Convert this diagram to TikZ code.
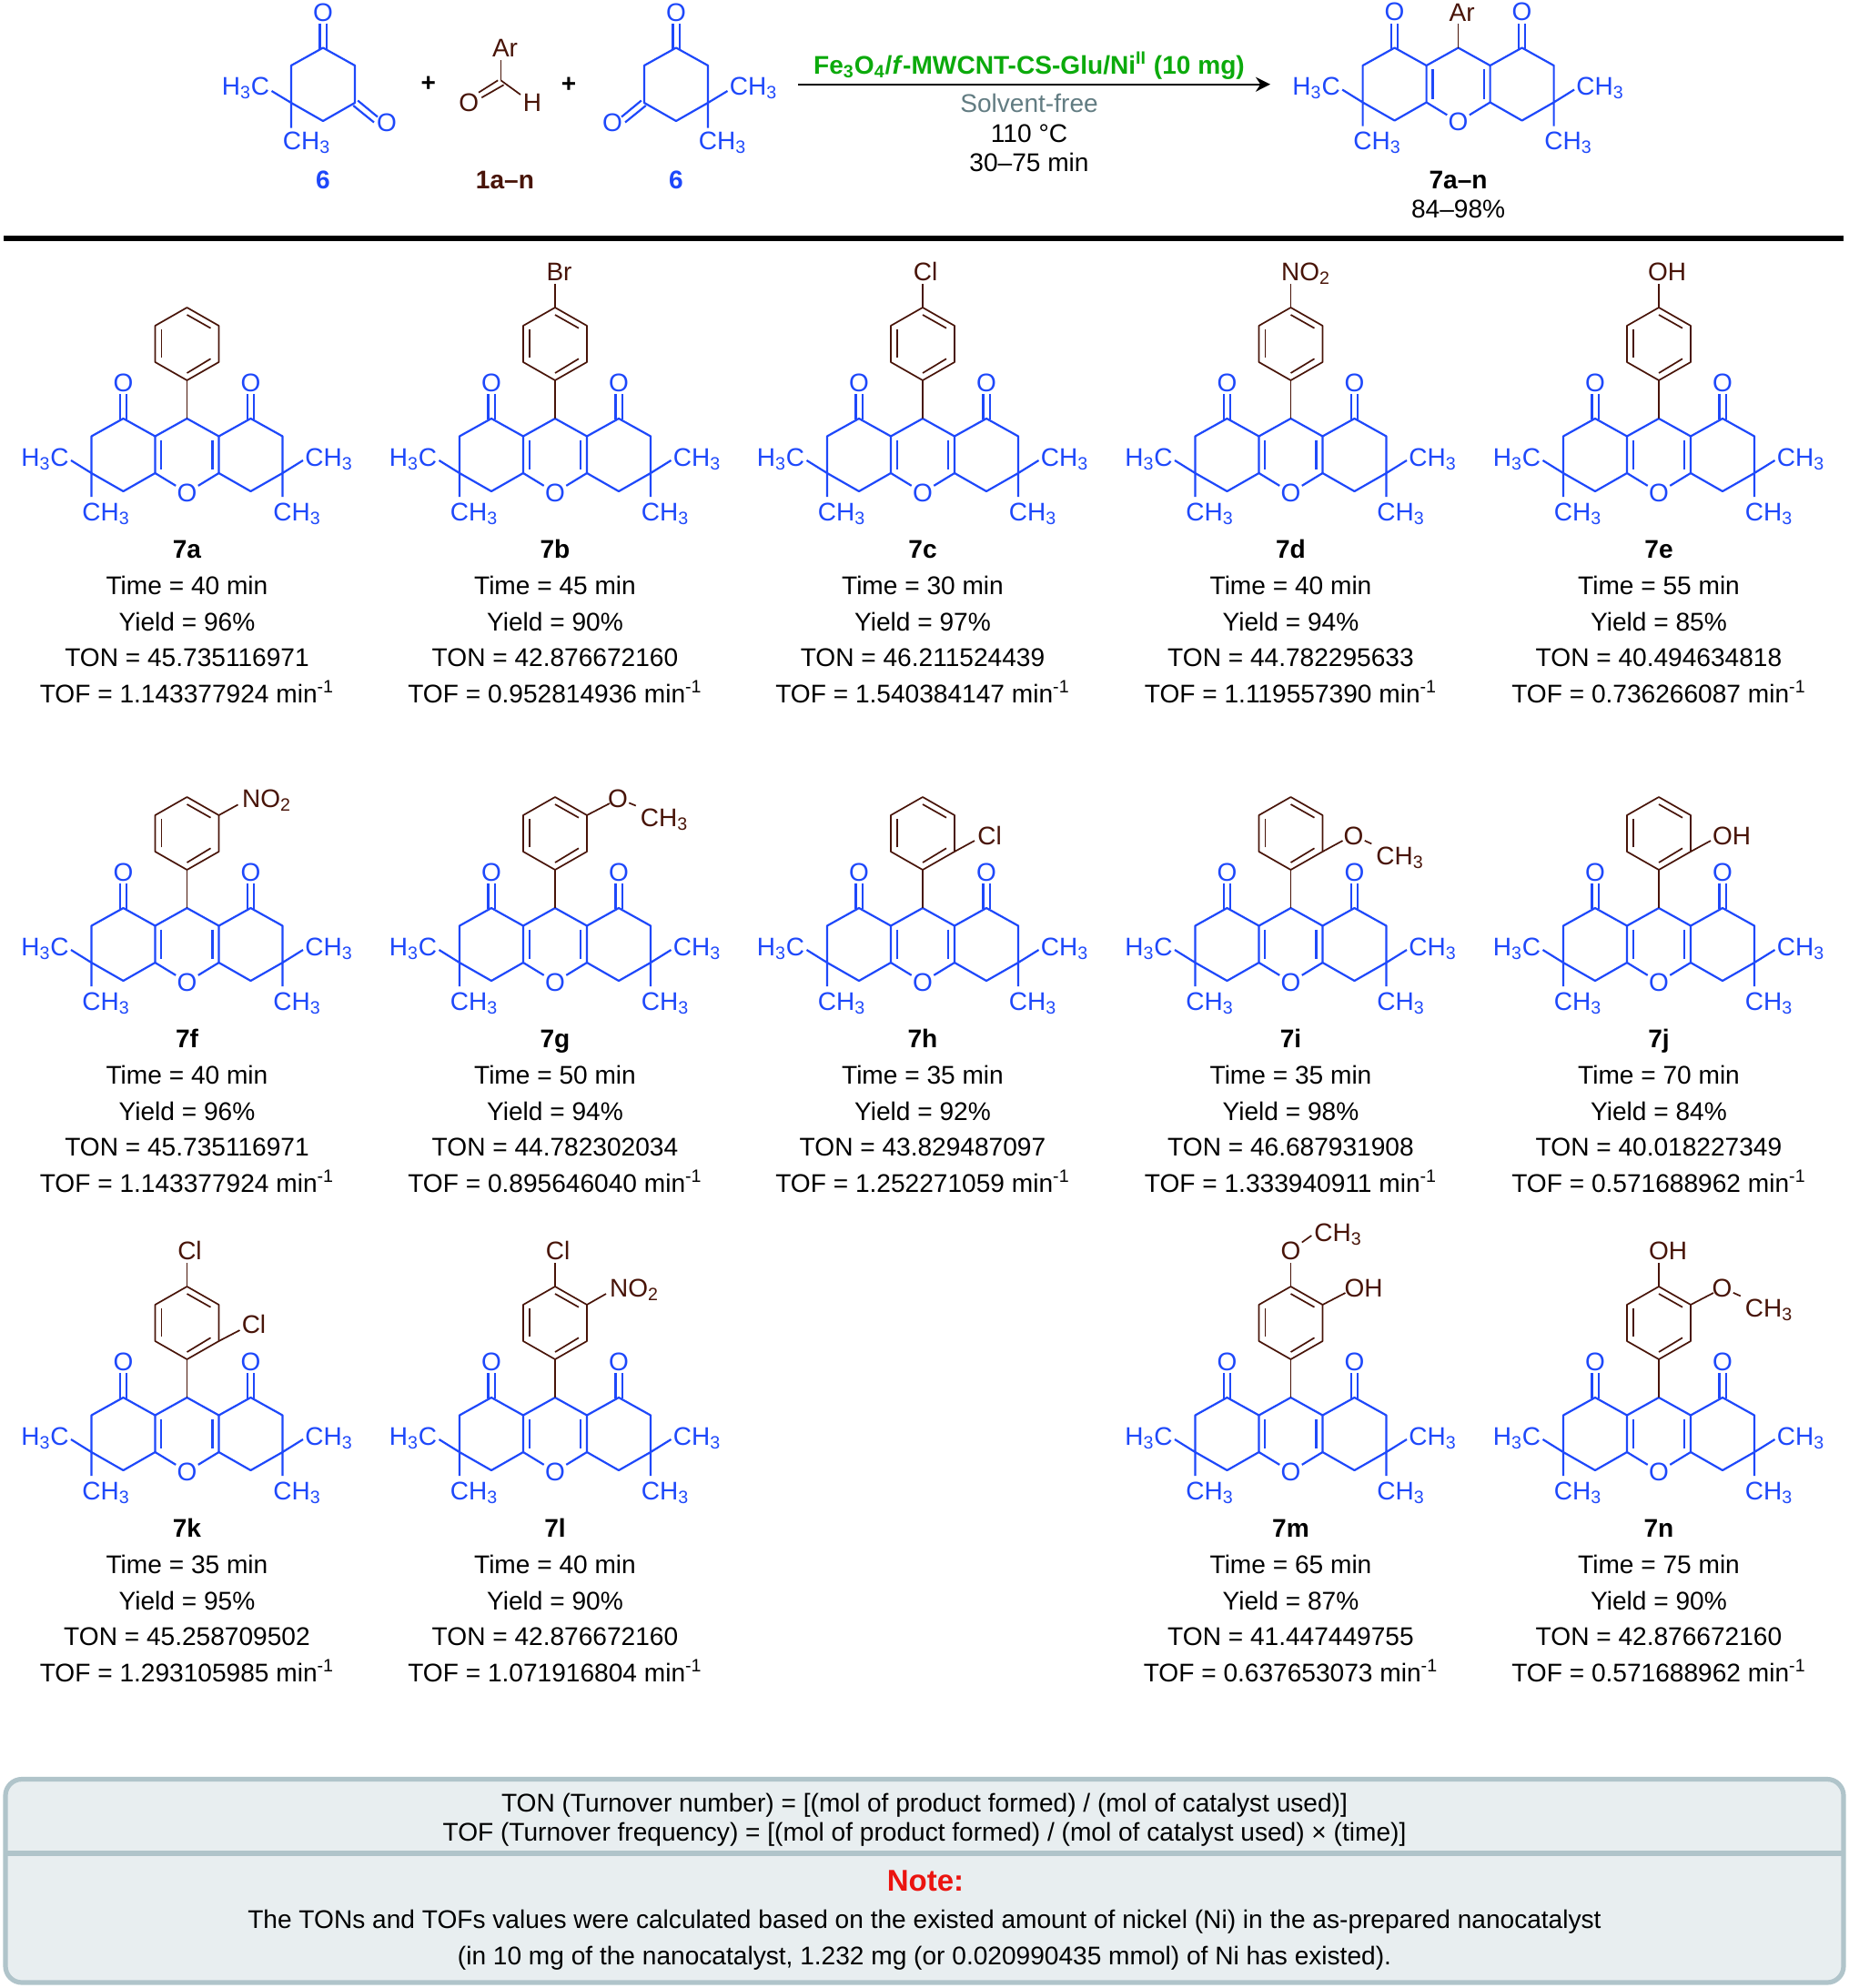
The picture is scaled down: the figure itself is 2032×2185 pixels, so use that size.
\documentclass[tikz,border=0pt]{standalone}
\usepackage{fontspec}
\setmainfont{Liberation Sans}
\usetikzlibrary{arrows.meta}
\definecolor{chemblue}{RGB}{30,72,250}
\definecolor{chembrown}{RGB}{72,20,8}
\definecolor{catgreen}{RGB}{12,170,12}
\definecolor{solvgray}{RGB}{98,124,130}
\definecolor{noteedge}{RGB}{176,196,202}
\definecolor{notefill}{RGB}{232,238,240}
\definecolor{notered}{RGB}{235,20,15}
\newcommand{\sub}[1]{\textsubscript{#1}}
\newcommand{\CHt}{CH\sub{3}}
\tikzset{
  bondblue/.style={draw=chemblue,line width=1.1pt},
  bondbrown/.style={draw=chembrown,line width=0.85pt},
  atomblue/.style={text=chemblue,font=\fontsize{14}{16}\selectfont,inner sep=0.5pt,anchor=base},
  atombrown/.style={text=chembrown,font=\fontsize{14}{16}\selectfont,inner sep=0.5pt,anchor=base},
  datatext/.style={font=\fontsize{14.05}{16}\selectfont,inner sep=0pt,anchor=base},
  datahead/.style={font=\bfseries\fontsize{14.05}{16}\selectfont,inner sep=0pt,anchor=base}
}
% tricyclic core, origin at the CH carbon
\newcommand{\xanthcore}[1]{
  \coordinate (#1c1) at (-70,0);
  \coordinate (#1c2) at (-105,19.5);
  \coordinate (#1c3) at (-105,60);
  \coordinate (#1c4) at (-70,80);
  \coordinate (#1ja) at (-35,19.5);
  \coordinate (#1jb) at (-35,60);
  \coordinate (#1ka) at (35,19.5);
  \coordinate (#1kb) at (35,60);
  \coordinate (#1c5) at (70,80);
  \coordinate (#1c6) at (105,60);
  \coordinate (#1c7) at (105,19.5);
  \coordinate (#1c8) at (70,0);
  \coordinate (#1c9) at (0,0);
  \coordinate (#1ol) at (-70,-27);
  \coordinate (#1or) at (70,-27);
  \coordinate (#1m1) at (-127.5,46);
  \coordinate (#1m2) at (-105,86);
  \coordinate (#1m3) at (127.5,46);
  \coordinate (#1m4) at (105,86);
  \node[atomblue] (#1ketl) at (-70,-30) {O};
  \node[atomblue] (#1ketr) at (70,-30) {O};
  \node[atomblue] (#1oxy) at (0,91) {O};
  \node[atomblue] (#1me1) at (-156,52) {H\sub{3}C};
  \node[atomblue] (#1me2) at (-89,112) {\CHt};
  \node[atomblue] (#1me3) at (156,52) {\CHt};
  \node[atomblue] (#1me4) at (121,112) {\CHt};
  \draw[bondblue,line join=round] (#1m1) -- (#1c3) -- (#1c2) -- (#1c1) -- (#1ja) -- (#1c9) -- (#1ka) -- (#1c8) -- (#1c7) -- (#1c6) -- (#1m3);
  \draw[bondblue,line join=round] (#1m2) -- (#1c3) -- (#1c4) -- (#1jb) -- (#1ja);
  \draw[bondblue,line join=round] (#1m4) -- (#1c6) -- (#1c5) -- (#1kb) -- (#1ka);
  \draw[bondblue] (#1jb) -- (#1oxy);
  \draw[bondblue] (#1kb) -- (#1oxy);
  \draw[bondblue] (-28.2,23.5) -- (-28.2,56);
  \draw[bondblue] (28,23.5) -- (28,56);
  \foreach \kx in {-73.6,-66.4,66.4,73.6}
    \draw[bondblue] (\kx,1) -- (\kx,-27);
}
% aryl ring above the core
\newcommand{\arylring}[1]{
  \coordinate (#1r1) at (0,-42);
  \coordinate (#1r2) at (35,-62);
  \coordinate (#1r3) at (35,-102);
  \coordinate (#1r4) at (0,-122);
  \coordinate (#1r5) at (-35,-102);
  \coordinate (#1r6) at (-35,-62);
  \draw[bondbrown] (#1c9) -- (#1r1);
  \draw[bondbrown,line join=round] (#1r1) -- (#1r2) -- (#1r3) -- (#1r4) -- (#1r5) -- (#1r6) -- cycle;
  \draw[bondbrown] (-28,-66.7) -- (-28,-98);
  \draw[bondbrown] (0,-114) -- (26,-99.3);
  \draw[bondbrown] (0,-50) -- (26,-65.7);
}
% bond from a ring atom to a free end beside a label
\newcommand{\sbond}[4]{
  \coordinate (#1#2x) at (#3,#4);
  \draw[bondbrown] (#1#2) -- (#1#2x);
}
% name, x, y, time, yield, TON, TOF, substituents
\newcommand{\product}[8]{
  \begin{scope}[shift={(#2,#3)}]
    \xanthcore{#1}
    \arylring{#1}
    #8
    \node[datahead] (#1lab) at (0,153) {7#1};
    \node[datatext] (#1tim) at (0,193) {Time = #4 min};
    \node[datatext] (#1yie) at (0,233) {Yield = #5\%};
    \node[datatext] (#1ton) at (0,272.5) {TON = #6};
    \node[datatext] (#1tof) at (0,312) {TOF = #7 min\textsuperscript{-1}};
  \end{scope}
}
% name, x, flip, methyl text, x of lower methyl
\newcommand{\dimedone}[5]{
  \begin{scope}[shift={(#2,52.5)},xscale=#3]
    \coordinate (#1c1) at (0,0);
    \coordinate (#1c2) at (35,19.5);
    \coordinate (#1c3) at (35,60.5);
    \coordinate (#1c4) at (0,80.5);
    \coordinate (#1c5) at (-35,60.5);
    \coordinate (#1c6) at (-35,19.5);
    \coordinate (#1m1) at (-56.5,47.5);
    \coordinate (#1m2) at (-35,88);
    \node[atomblue] (#1ot) at (0,-29.5) {O};
    \node[atomblue] (#1or) at (70,91.5) {O};
    \node[atomblue] (#1me1) at (-85,52) {#4};
    \node[atomblue] (#1me2) at (#5,112) {\CHt};
    \draw[bondblue,line join=round] (#1m1) -- (#1c5) -- (#1c6) -- (#1c1) -- (#1c2) -- (#1c3) -- (#1c4) -- (#1c5) -- (#1m2);
    \draw[bondblue] (-3.6,1) -- (-3.6,-27);
    \draw[bondblue] (3.6,1) -- (3.6,-27);
    \draw[bondblue] (33.2,63.5) -- (56,82);
    \draw[bondblue] (38.2,58) -- (60,76);
    \node[datahead,text=chemblue] (#1lab) at (0,154.5) {6};
  \end{scope}
}
\begin{document}
\begin{tikzpicture}[x=0.5pt,y=-0.5pt]
\useasboundingbox (0,0) rectangle (2032,2185);
% reaction scheme
\dimedone{da}{355}{1}{H\sub{3}C}{-18}
\dimedone{db}{743}{-1}{\CHt}{-51}
\node[font=\bfseries\fontsize{14}{16}\selectfont] (plusa) at (470.7,92) {+};
\node[font=\bfseries\fontsize{14}{16}\selectfont] (plusb) at (625,93) {+};
\coordinate (alc) at (550.4,88.3);
\coordinate (alr) at (550.4,66);
\coordinate (alh) at (572,104);
\node[atombrown] (alar) at (555,62.5) {Ar};
\node[atombrown] (alo) at (515.3,122.7) {O};
\node[atombrown] (alhy) at (585,122.7) {H};
\draw[bondbrown] (alc) -- (alr);
\draw[bondbrown] (alc) -- (alh);
\draw[bondbrown] (547.2,88.3) -- (526,101.7);
\draw[bondbrown] (553.6,93.3) -- (529.3,107.3);
\node[datahead,text=chembrown] (allab) at (555,207) {1a--n};
\coordinate (arrl) at (877,92.7);
\coordinate (arrr) at (1396,92.7);
\draw[line width=1pt,-{Stealth[length=8pt,width=8pt]}] (arrl) -- (arrr);
\node[datahead,text=catgreen] (cat) at (1131,81) {Fe\sub{3}O\sub{4}/\textit{f}-MWCNT-CS-Glu/Ni\textsuperscript{II} (10 mg)};
\node[datatext,text=solvgray] (solv) at (1131,123.5) {Solvent-free};
\node[datatext] (temp) at (1131,156) {110 °C};
\node[datatext] (time) at (1131,188.5) {30--75 min};
\begin{scope}[shift={(1602.6,52.5)}]
  \xanthcore{h}
  \coordinate (har) at (0,-26.5);
  \node[atombrown] (harl) at (4,-29.5) {Ar};
  \draw[bondbrown] (hc9) -- (har);
  \node[datahead] (hlab) at (0,154.5) {7a--n};
  \node[datatext] (hyie) at (0,186.5) {84--98\%};
\end{scope}
\coordinate (rulel) at (4,261.5);
\coordinate (ruler) at (2026,261.5);
\draw[line width=3pt] (rulel) -- (ruler);
% first row
\product{a}{205.5}{460}{40}{96}{45.735116971}{1.143377924}{}
\product{b}{610}{460}{45}{90}{42.876672160}{0.952814936}{
  \node[atombrown] (bbr) at (4.5,-152) {Br};
  \sbond{b}{r4}{0}{-148}
}
\product{c}{1014}{460}{30}{97}{46.211524439}{1.540384147}{
  \node[atombrown] (ccl) at (3,-152) {Cl};
  \sbond{c}{r4}{0}{-148}
}
\product{d}{1418.5}{460}{40}{94}{44.782295633}{1.119557390}{
  \node[atombrown] (dno) at (16.5,-152) {NO\sub{2}};
  \sbond{d}{r4}{0}{-148}
}
\product{e}{1823}{460}{55}{85}{40.494634818}{0.736266087}{
  \node[atombrown] (eoh) at (9,-152) {OH};
  \sbond{e}{r4}{0}{-148}
}
% second row
\product{f}{205.5}{998}{40}{96}{45.735116971}{1.143377924}{
  \node[atombrown] (fno) at (87.5,-111) {NO\sub{2}};
  \sbond{f}{r3}{56}{-113.6}
}
\product{g}{610}{998}{50}{94}{44.782302034}{0.895646040}{
  \node[atombrown] (goy) at (69,-111) {O};
  \node[atombrown] (gme) at (120,-90) {\CHt};
  \sbond{g}{r3}{60}{-115}
  \draw[bondbrown,shorten >=2pt] (goy) -- (gme.north west);
}
\product{h}{1014}{998}{35}{92}{43.829487097}{1.252271059}{
  \node[atombrown] (hcl) at (73.6,-70) {Cl};
  \sbond{h}{r2}{57}{-74}
}
\product{i}{1418.5}{998}{35}{98}{46.687931908}{1.333940911}{
  \node[atombrown] (ioy) at (69,-70) {O};
  \node[atombrown] (ime) at (120,-48) {\CHt};
  \sbond{i}{r2}{57}{-74}
  \draw[bondbrown,shorten >=2pt] (ioy) -- (ime.north west);
}
\product{j}{1823}{998}{70}{84}{40.018227349}{0.571688962}{
  \node[atombrown] (joh) at (80,-70) {OH};
  \sbond{j}{r2}{57}{-74}
}
% third row
\product{k}{205.5}{1536}{35}{95}{45.258709502}{1.293105985}{
  \node[atombrown] (kcl) at (3,-152) {Cl};
  \node[atombrown] (kcm) at (73.5,-70.5) {Cl};
  \sbond{k}{r4}{0}{-148}
  \sbond{k}{r2}{58}{-74}
}
\product{l}{610}{1536}{40}{90}{42.876672160}{1.071916804}{
  \node[atombrown] (lcl) at (3,-152) {Cl};
  \node[atombrown] (lno) at (87,-110.7) {NO\sub{2}};
  \sbond{l}{r4}{0}{-148}
  \sbond{l}{r3}{56}{-114}
}
\product{m}{1418.5}{1536}{65}{87}{41.447449755}{0.637653073}{
  \node[atombrown] (moy) at (0,-152) {O};
  \node[atombrown] (mme) at (52,-171.7) {\CHt};
  \node[atombrown] (moh) at (80,-110.7) {OH};
  \sbond{m}{r4}{0}{-148}
  \sbond{m}{r3}{60}{-115}
  \draw[bondbrown,shorten >=1pt] (moy) -- (mme.west);
}
\product{n}{1823}{1536}{75}{90}{42.876672160}{0.571688962}{
  \node[atombrown] (noh) at (10,-152) {OH};
  \node[atombrown] (noy) at (69.5,-111) {O};
  \node[atombrown] (nme) at (121,-89) {\CHt};
  \sbond{n}{r4}{0}{-148}
  \sbond{n}{r3}{60}{-115}
  \draw[bondbrown,shorten >=2pt] (noy) -- (nme.north west);
}
% note box
\coordinate (notel) at (6,2037);
\coordinate (noter) at (2026,2037);
\draw[draw=noteedge,fill=notefill,line width=2.6pt,rounded corners=9pt] (6,1955.5) rectangle (2026,2179);
\draw[draw=noteedge,line width=2.6pt] (notel) -- (noter);
\node[datatext] (tonline) at (1016,1991) {TON (Turnover number) = [(mol of product formed) / (mol of catalyst used)]};
\node[datatext] (tofline) at (1016,2023.5) {TOF (Turnover frequency) = [(mol of product formed) / (mol of catalyst used) × (time)]};
\node[font=\bfseries\fontsize{16.5}{18}\selectfont,text=notered,inner sep=0pt,anchor=base] (note) at (1017,2078) {Note:};
\node[datatext] (noteb) at (1016,2119.5) {The TONs and TOFs values were calculated based on the existed amount of nickel (Ni) in the as-prepared nanocatalyst};
\node[datatext] (notec) at (1016,2159) {(in 10 mg of the nanocatalyst, 1.232 mg (or 0.020990435 mmol) of Ni has existed).};
\end{tikzpicture}
\end{document}
